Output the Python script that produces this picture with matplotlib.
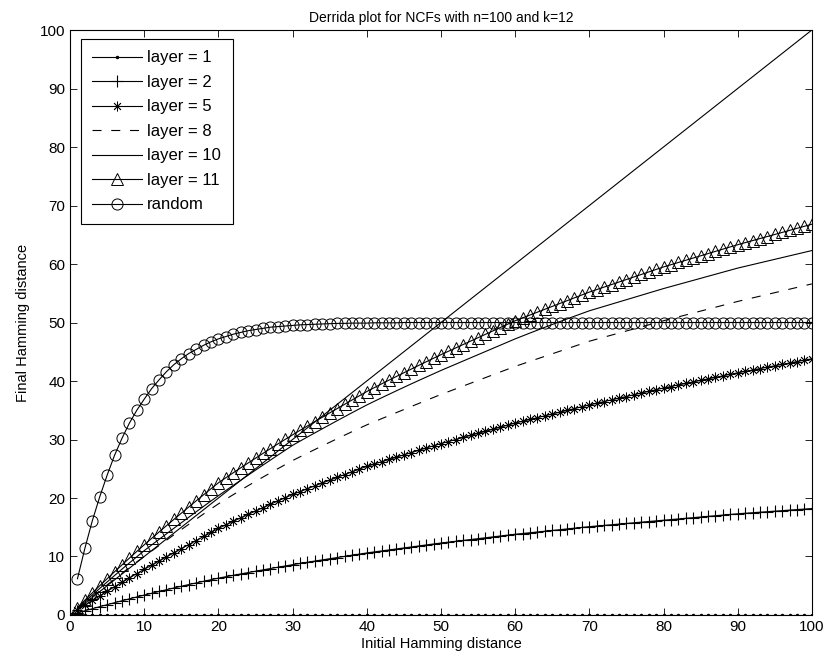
import matplotlib
matplotlib.use('Agg')
import matplotlib.pyplot as plt

plt.rcParams['font.family'] = ['Liberation Sans', 'DejaVu Sans']
plt.rcParams['lines.scale_dashes'] = False

# Initial Hamming distance
x = list(range(1, 101))

# Final Hamming distance
layer1 = [
    0, 0, 0, 0, 0, 0, 0, 0, 0, 0, 0, 0, 0, 0, 0, 0, 0, 0, 0, 0,
    0, 0, 0, 0, 0, 0, 0, 0, 0, 0, 0, 0, 0, 0, 0, 0, 0, 0, 0, 0,
    0, 0, 0, 0, 0, 0, 0, 0, 0, 0, 0, 0, 0, 0, 0, 0, 0, 0, 0, 0,
    0, 0, 0, 0, 0, 0, 0, 0, 0, 0, 0, 0, 0, 0, 0, 0, 0, 0, 0, 0,
    0, 0, 0, 0, 0, 0, 0, 0, 0, 0, 0, 0, 0, 0, 0, 0, 0, 0, 0, 0]

layer2 = [
    0.36, 0.72, 1.07, 1.42, 1.76, 2.10, 2.43, 2.76, 3.08, 3.40,
    3.71, 4.02, 4.32, 4.62, 4.91, 5.20, 5.48, 5.76, 6.03, 6.30,
    6.54, 6.78, 7.02, 7.25, 7.48, 7.71, 7.94, 8.16, 8.38, 8.60,
    8.81, 9.02, 9.22, 9.42, 9.62, 9.82, 10.02, 10.22, 10.41, 10.60,
    10.78, 10.95, 11.12, 11.29, 11.46, 11.63, 11.80, 11.97, 12.14, 12.30,
    12.45, 12.60, 12.75, 12.90, 13.05, 13.20, 13.35, 13.50, 13.65, 13.80,
    13.93, 14.06, 14.19, 14.32, 14.45, 14.58, 14.71, 14.84, 14.97, 15.10,
    15.21, 15.32, 15.43, 15.54, 15.65, 15.76, 15.87, 15.98, 16.09, 16.20,
    16.31, 16.42, 16.53, 16.64, 16.75, 16.86, 16.97, 17.08, 17.19, 17.30,
    17.39, 17.48, 17.57, 17.66, 17.75, 17.84, 17.93, 18.02, 18.11, 18.20]

layer5 = [
    0.84, 1.67, 2.48, 3.28, 4.06, 4.83, 5.59, 6.34, 7.08, 7.80,
    8.52, 9.23, 9.94, 10.64, 11.34, 12.04, 12.73, 13.42, 14.11, 14.80,
    15.41, 16.01, 16.60, 17.19, 17.77, 18.35, 18.92, 19.49, 20.05, 20.60,
    21.10, 21.59, 22.08, 22.56, 23.04, 23.52, 24.00, 24.47, 24.94, 25.40,
    25.80, 26.20, 26.59, 26.98, 27.37, 27.76, 28.15, 28.54, 28.92, 29.30,
    29.65, 30.00, 30.35, 30.70, 31.05, 31.40, 31.75, 32.10, 32.45, 32.80,
    33.11, 33.42, 33.73, 34.04, 34.35, 34.66, 34.97, 35.28, 35.59, 35.90,
    36.19, 36.48, 36.77, 37.06, 37.35, 37.64, 37.93, 38.22, 38.51, 38.80,
    39.06, 39.32, 39.58, 39.84, 40.10, 40.36, 40.62, 40.88, 41.14, 41.40,
    41.64, 41.88, 42.12, 42.36, 42.60, 42.84, 43.08, 43.32, 43.56, 43.80]

layer8 = [
    1.05, 2.09, 3.12, 4.14, 5.15, 6.15, 7.14, 8.12, 9.07, 10.00,
    10.94, 11.87, 12.79, 13.70, 14.60, 15.50, 16.39, 17.27, 18.14, 19.00,
    19.79, 20.57, 21.34, 22.10, 22.84, 23.57, 24.29, 25.00, 25.70, 26.40,
    27.04, 27.67, 28.29, 28.91, 29.52, 30.13, 30.73, 31.33, 31.92, 32.50,
    33.03, 33.56, 34.08, 34.60, 35.12, 35.64, 36.16, 36.68, 37.19, 37.70,
    38.18, 38.66, 39.14, 39.62, 40.10, 40.58, 41.06, 41.54, 42.02, 42.50,
    42.93, 43.36, 43.79, 44.22, 44.65, 45.08, 45.51, 45.94, 46.37, 46.80,
    47.15, 47.50, 47.85, 48.20, 48.55, 48.90, 49.25, 49.60, 49.95, 50.30,
    50.63, 50.96, 51.29, 51.62, 51.95, 52.28, 52.61, 52.94, 53.27, 53.60,
    53.90, 54.20, 54.50, 54.80, 55.10, 55.40, 55.70, 56.00, 56.30, 56.60]

layer10 = [
    1.15, 2.29, 3.42, 4.54, 5.65, 6.75, 7.84, 8.90, 9.95, 11.00,
    11.97, 12.93, 13.88, 14.83, 15.77, 16.71, 17.64, 18.57, 19.49, 20.40,
    21.28, 22.16, 23.03, 23.90, 24.76, 25.62, 26.47, 27.32, 28.16, 29.00,
    29.72, 30.43, 31.13, 31.83, 32.52, 33.21, 33.89, 34.57, 35.24, 35.90,
    36.52, 37.13, 37.73, 38.33, 38.92, 39.51, 40.09, 40.66, 41.23, 41.80,
    42.34, 42.88, 43.42, 43.96, 44.50, 45.04, 45.58, 46.12, 46.66, 47.20,
    47.70, 48.20, 48.69, 49.18, 49.66, 50.14, 50.61, 51.08, 51.54, 52.00,
    52.38, 52.76, 53.14, 53.52, 53.90, 54.28, 54.66, 55.04, 55.42, 55.80,
    56.15, 56.50, 56.85, 57.20, 57.55, 57.90, 58.25, 58.60, 58.95, 59.30,
    59.60, 59.90, 60.20, 60.50, 60.80, 61.10, 61.40, 61.70, 62.00, 62.30]

layer11 = [
    1.28, 2.54, 3.78, 5.00, 6.20, 7.39, 8.56, 9.72, 10.87, 12.00,
    13.10, 14.19, 15.27, 16.34, 17.40, 18.46, 19.51, 20.55, 21.58, 22.60,
    23.46, 24.31, 25.15, 25.98, 26.80, 27.62, 28.43, 29.23, 30.02, 30.80,
    31.56, 32.31, 33.06, 33.80, 34.54, 35.28, 36.01, 36.74, 37.47, 38.20,
    38.86, 39.51, 40.15, 40.78, 41.41, 42.04, 42.66, 43.28, 43.89, 44.50,
    45.08, 45.66, 46.24, 46.82, 47.40, 47.98, 48.56, 49.14, 49.72, 50.30,
    50.79, 51.28, 51.77, 52.26, 52.75, 53.24, 53.73, 54.22, 54.71, 55.20,
    55.63, 56.06, 56.49, 56.92, 57.35, 57.78, 58.21, 58.64, 59.07, 59.50,
    59.88, 60.26, 60.64, 61.02, 61.40, 61.78, 62.16, 62.54, 62.92, 63.30,
    63.65, 64.00, 64.35, 64.70, 65.05, 65.40, 65.75, 66.10, 66.45, 66.80]

random_net = [
    6.2, 11.4, 16.1, 20.2, 23.9, 27.3, 30.2, 32.8, 35.0, 36.9,
    38.7, 40.2, 41.6, 42.8, 43.8, 44.7, 45.4, 46.1, 46.7, 47.2,
    47.6, 48.0, 48.3, 48.6, 48.8, 49.0, 49.2, 49.3, 49.4, 49.5,
    49.6, 49.65, 49.7, 49.75, 49.8, 49.85, 49.85, 49.9, 49.9, 49.9,
    49.95, 49.95, 49.95, 49.95, 50.0, 50.0, 50.0, 50.0, 50.0, 50.0,
    50.0, 50.0, 50.0, 50.0, 50.0, 50.0, 50.0, 50.0, 50.0, 50.0,
    50.0, 50.0, 50.0, 50.0, 50.0, 50.0, 50.0, 50.0, 50.0, 50.0,
    50.0, 50.0, 50.0, 50.0, 50.0, 50.0, 50.0, 50.0, 50.0, 50.0,
    50.0, 50.0, 50.0, 50.0, 50.0, 50.0, 50.0, 50.0, 50.0, 50.0,
    50.0, 50.0, 50.0, 50.0, 50.0, 50.0, 50.0, 50.0, 50.0, 50.0]

diag = [0, 100]

fig = plt.figure(figsize=(8.27, 6.64), dpi=100)
ax = fig.add_axes([0.0847, 0.0738, 0.897, 0.881])

lw = 0.8
ax.plot(x, layer1, '-', color='k', lw=lw, marker='.', ms=3, label='layer = 1')
ax.plot(x, layer2, '-', color='k', lw=lw, marker='+', ms=8, mew=0.8, label='layer = 2')
ax.plot(x, layer5, '-', color='k', lw=lw, marker=(8, 2, 0), ms=7, mew=0.6, label='layer = 5')
ax.plot(x, layer8, '--', color='k', lw=lw, dashes=(6.5, 7), label='layer = 8')
ax.plot(x, layer10, '-', color='k', lw=lw, label='layer = 10')
ax.plot(x, layer11, '-', color='k', lw=lw, marker='^', ms=8, mfc='none', mew=0.7, label='layer = 11')
ax.plot(x, random_net, '-', color='k', lw=lw, marker='o', ms=8, mfc='none', mew=0.7, label='random')
ax.plot(diag, diag, '-', color='k', lw=lw)

ax.set_xlim(0, 100)
ax.set_ylim(0, 100)
ax.set_xticks(range(0, 101, 10))
ax.set_yticks(range(0, 101, 10))
ax.tick_params(direction='in', top=True, right=True, length=5, width=0.6, labelsize=11)
for s in ax.spines.values():
    s.set_linewidth(0.8)

ax.set_xlabel('Initial Hamming distance', fontsize=10.5, labelpad=2)
ax.set_ylabel('Final Hamming distance', fontsize=10.5, labelpad=7)
ax.set_title('Derrida plot for NCFs with n=100 and k=12', fontsize=10, pad=6)

leg = ax.legend(loc='upper left', bbox_to_anchor=(0.0148, 0.9846), borderaxespad=0,
                numpoints=1, fontsize=12, handlelength=3.0, handletextpad=0.3,
                labelspacing=0.57, borderpad=0.68, fancybox=False, framealpha=1,
                edgecolor='k')
leg.get_frame().set_linewidth(0.8)

fig.savefig('out.png', dpi=100)
